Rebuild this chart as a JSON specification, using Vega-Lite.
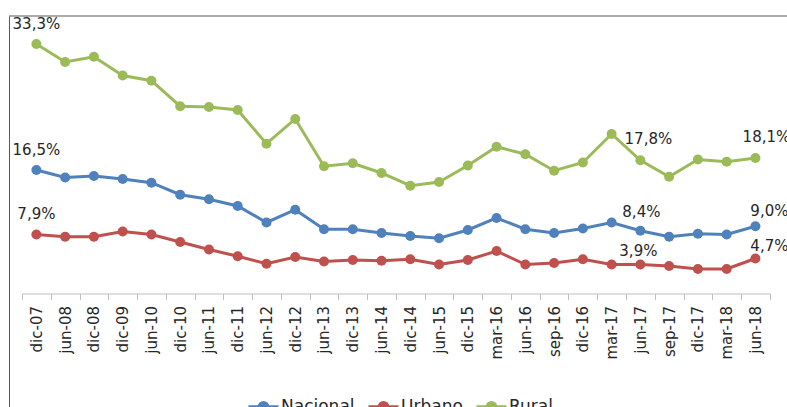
{
  "$schema": "https://vega.github.io/schema/vega-lite/v6.json",
  "width": 778,
  "height": 391,
  "autosize": {"type": "none"},
  "padding": {"left": 9, "top": 16, "right": 0, "bottom": 0},
  "background": "white",
  "config": {"view": {"stroke": null}, "font": "DejaVu Sans"},
  "data": {"values": [
    {"cat": "dic-07", "series": "Nacional", "value": 16.5, "label": "16,5%"},
    {"cat": "jun-08", "series": "Nacional", "value": 15.5},
    {"cat": "dic-08", "series": "Nacional", "value": 15.7},
    {"cat": "dic-09", "series": "Nacional", "value": 15.3},
    {"cat": "jun-10", "series": "Nacional", "value": 14.8},
    {"cat": "dic-10", "series": "Nacional", "value": 13.2},
    {"cat": "jun-11", "series": "Nacional", "value": 12.6},
    {"cat": "dic-11", "series": "Nacional", "value": 11.7},
    {"cat": "jun-12", "series": "Nacional", "value": 9.5},
    {"cat": "dic-12", "series": "Nacional", "value": 11.2},
    {"cat": "jun-13", "series": "Nacional", "value": 8.6},
    {"cat": "dic-13", "series": "Nacional", "value": 8.6},
    {"cat": "jun-14", "series": "Nacional", "value": 8.1},
    {"cat": "dic-14", "series": "Nacional", "value": 7.7},
    {"cat": "jun-15", "series": "Nacional", "value": 7.4},
    {"cat": "dic-15", "series": "Nacional", "value": 8.5},
    {"cat": "mar-16", "series": "Nacional", "value": 10.1},
    {"cat": "jun-16", "series": "Nacional", "value": 8.6},
    {"cat": "sep-16", "series": "Nacional", "value": 8.1},
    {"cat": "dic-16", "series": "Nacional", "value": 8.7},
    {"cat": "mar-17", "series": "Nacional", "value": 9.5},
    {"cat": "jun-17", "series": "Nacional", "value": 8.4, "label": "8,4%"},
    {"cat": "sep-17", "series": "Nacional", "value": 7.6},
    {"cat": "dic-17", "series": "Nacional", "value": 8.0},
    {"cat": "mar-18", "series": "Nacional", "value": 7.9},
    {"cat": "jun-18", "series": "Nacional", "value": 9.0, "label": "9,0%"},
    {"cat": "dic-07", "series": "Urbano", "value": 7.9, "label": "7,9%"},
    {"cat": "jun-08", "series": "Urbano", "value": 7.6},
    {"cat": "dic-08", "series": "Urbano", "value": 7.6},
    {"cat": "dic-09", "series": "Urbano", "value": 8.3},
    {"cat": "jun-10", "series": "Urbano", "value": 7.9},
    {"cat": "dic-10", "series": "Urbano", "value": 6.9},
    {"cat": "jun-11", "series": "Urbano", "value": 5.9},
    {"cat": "dic-11", "series": "Urbano", "value": 5.0},
    {"cat": "jun-12", "series": "Urbano", "value": 4.0},
    {"cat": "dic-12", "series": "Urbano", "value": 4.9},
    {"cat": "jun-13", "series": "Urbano", "value": 4.3},
    {"cat": "dic-13", "series": "Urbano", "value": 4.5},
    {"cat": "jun-14", "series": "Urbano", "value": 4.4},
    {"cat": "dic-14", "series": "Urbano", "value": 4.6},
    {"cat": "jun-15", "series": "Urbano", "value": 3.9},
    {"cat": "dic-15", "series": "Urbano", "value": 4.5},
    {"cat": "mar-16", "series": "Urbano", "value": 5.7},
    {"cat": "jun-16", "series": "Urbano", "value": 3.9},
    {"cat": "sep-16", "series": "Urbano", "value": 4.1},
    {"cat": "dic-16", "series": "Urbano", "value": 4.6},
    {"cat": "mar-17", "series": "Urbano", "value": 3.9},
    {"cat": "jun-17", "series": "Urbano", "value": 3.9, "label": "3,9%"},
    {"cat": "sep-17", "series": "Urbano", "value": 3.7},
    {"cat": "dic-17", "series": "Urbano", "value": 3.3},
    {"cat": "mar-18", "series": "Urbano", "value": 3.3},
    {"cat": "jun-18", "series": "Urbano", "value": 4.7, "label": "4,7%"},
    {"cat": "dic-07", "series": "Rural", "value": 33.3, "label": "33,3%"},
    {"cat": "jun-08", "series": "Rural", "value": 30.9},
    {"cat": "dic-08", "series": "Rural", "value": 31.6},
    {"cat": "dic-09", "series": "Rural", "value": 29.1},
    {"cat": "jun-10", "series": "Rural", "value": 28.4},
    {"cat": "dic-10", "series": "Rural", "value": 25.0},
    {"cat": "jun-11", "series": "Rural", "value": 24.9},
    {"cat": "dic-11", "series": "Rural", "value": 24.5},
    {"cat": "jun-12", "series": "Rural", "value": 20.0},
    {"cat": "dic-12", "series": "Rural", "value": 23.3},
    {"cat": "jun-13", "series": "Rural", "value": 17.0},
    {"cat": "dic-13", "series": "Rural", "value": 17.4},
    {"cat": "jun-14", "series": "Rural", "value": 16.1},
    {"cat": "dic-14", "series": "Rural", "value": 14.4},
    {"cat": "jun-15", "series": "Rural", "value": 14.9},
    {"cat": "dic-15", "series": "Rural", "value": 17.1},
    {"cat": "mar-16", "series": "Rural", "value": 19.6},
    {"cat": "jun-16", "series": "Rural", "value": 18.6},
    {"cat": "sep-16", "series": "Rural", "value": 16.4},
    {"cat": "dic-16", "series": "Rural", "value": 17.5},
    {"cat": "mar-17", "series": "Rural", "value": 21.3},
    {"cat": "jun-17", "series": "Rural", "value": 17.8, "label": "17,8%"},
    {"cat": "sep-17", "series": "Rural", "value": 15.6},
    {"cat": "dic-17", "series": "Rural", "value": 17.9},
    {"cat": "mar-18", "series": "Rural", "value": 17.6},
    {"cat": "jun-18", "series": "Rural", "value": 18.1, "label": "18,1%"}
  ]},
  "layer": [
    {
      "data": {"values": [{}]},
      "mark": {"type": "rule", "color": "#595959", "strokeWidth": 1},
      "encoding": {"y": {"datum": 37.03, "type": "quantitative"}}
    },
    {
      "encoding": {
        "x": {
          "field": "cat", "type": "ordinal", "sort": null,
          "scale": {"type": "band", "paddingInner": 0, "paddingOuter": 0, "range": [13, 760.8]},
          "axis": {
            "title": null, "labelAngle": -90, "offset": -113.5, "tickBand": "extent",
            "domainColor": "#BFBFBF", "tickColor": "#BFBFBF", "tickSize": 6,
            "labelFontSize": 15, "labelColor": "#262626", "labelPadding": 6,
            "labelFont": "DejaVu Sans"
          }
        },
        "y": {
          "field": "value", "type": "quantitative",
          "scale": {"domain": [-15.1, 37.03], "nice": false, "zero": false},
          "axis": {"title": null, "labels": false, "ticks": false, "grid": false, "domainColor": "#595959"}
        }
      },
      "layer": [
        {
          "mark": {"type": "line", "strokeWidth": 3, "point": {"size": 100, "filled": true}},
          "encoding": {
            "color": {
              "field": "series", "type": "nominal",
              "scale": {"domain": ["Nacional", "Urbano", "Rural"], "range": ["#4F81BD", "#C0504D", "#9BBB59"]},
              "legend": {
                "orient": "none", "legendX": 238, "legendY": 374, "direction": "horizontal",
                "title": null,
                "symbolType": "M-1,0H1M0.28,0A0.28,0.28,0,1,1,-0.28,0A0.28,0.28,0,1,1,0.28,0",
                "symbolSize": 900, "symbolStrokeWidth": 3,
                "labelFontSize": 17, "labelColor": "#262626", "labelFont": "DejaVu Sans",
                "columnPadding": 7, "labelOffset": 1,
                "encode": {"symbols": {"update": {
                  "fill": {"scale": "color", "field": "value"},
                  "stroke": {"scale": "color", "field": "value"},
                  "strokeWidth": {"value": 3},
                  "opacity": {"value": 1}
                }}}
              }
            }
          }
        },
        {
          "transform": [{"filter": "datum.cat === 'dic-07'"}],
          "mark": {"type": "text", "dy": -20, "baseline": "middle", "fontSize": 15, "color": "#262626"},
          "encoding": {"text": {"field": "label"}}
        },
        {
          "transform": [{"filter": "datum.cat === 'jun-17' && datum.series === 'Rural'"}],
          "mark": {"type": "text", "dx": 8, "dy": -21, "baseline": "middle", "fontSize": 15, "color": "#262626"},
          "encoding": {"text": {"field": "label"}}
        },
        {
          "transform": [{"filter": "datum.cat === 'jun-17' && datum.series === 'Nacional'"}],
          "mark": {"type": "text", "dx": 1, "dy": -19, "baseline": "middle", "fontSize": 15, "color": "#262626"},
          "encoding": {"text": {"field": "label"}}
        },
        {
          "transform": [{"filter": "datum.cat === 'jun-17' && datum.series === 'Urbano'"}],
          "mark": {"type": "text", "dx": -2, "dy": -13, "baseline": "middle", "fontSize": 15, "color": "#262626"},
          "encoding": {"text": {"field": "label"}}
        },
        {
          "transform": [{"filter": "datum.cat === 'jun-18' && datum.series === 'Rural'"}],
          "mark": {"type": "text", "dx": 11, "dy": -21, "baseline": "middle", "fontSize": 15, "color": "#262626"},
          "encoding": {"text": {"field": "label"}}
        },
        {
          "transform": [{"filter": "datum.cat === 'jun-18' && datum.series === 'Nacional'"}],
          "mark": {"type": "text", "dx": 14, "dy": -15, "baseline": "middle", "fontSize": 15, "color": "#262626"},
          "encoding": {"text": {"field": "label"}}
        },
        {
          "transform": [{"filter": "datum.cat === 'jun-18' && datum.series === 'Urbano'"}],
          "mark": {"type": "text", "dx": 14, "dy": -12, "baseline": "middle", "fontSize": 15, "color": "#262626"},
          "encoding": {"text": {"field": "label"}}
        }
      ]
    }
  ]
}
